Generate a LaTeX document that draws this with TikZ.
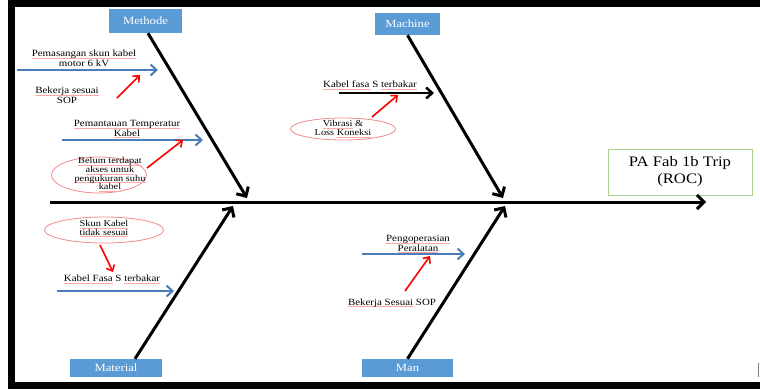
\documentclass[tikz,border=0pt]{standalone}
\usepackage{fontspec}
\setmainfont[FakeStretch=1.15]{Liberation Serif}
\usetikzlibrary{arrows.meta,shapes.geometric}
\definecolor{catblue}{HTML}{5B9BD5}
\definecolor{ribblue}{HTML}{4A7EBB}
\definecolor{elred}{HTML}{F08A8A}
\definecolor{resgreen}{HTML}{A9D18E}
\newsavebox\rubox
\newcommand\ru[1]{\leavevmode\sbox\rubox{#1}\rlap{\textcolor{red!35}{\rule[-1.8pt]{\wd\rubox}{0.6pt}}}\usebox\rubox}
\begin{document}
\begin{tikzpicture}[x=1pt,y=-1pt,
  catbox/.style={fill=catblue,text=white,inner sep=0pt,font=\fontsize{11}{13}\selectfont},
  lbl/.style={align=center,inner sep=0pt,font=\fontsize{9.5}{9.6}\selectfont},
  elbl/.style={align=center,inner sep=0pt,font=\fontsize{9}{8.8}\selectfont},
  bone/.style={draw=black,line width=3pt,-{Straight Barb[length=7pt,width=14pt,line width=3pt]}},
  bluerib/.style={draw=ribblue,line width=2pt,-{Straight Barb[length=6pt,width=11pt,line width=2pt]}},
  blackrib/.style={draw=black,line width=2.5pt,-{Straight Barb[length=6pt,width=11pt,line width=2.5pt]}},
  redarr/.style={draw=red,line width=1.6pt,-{Straight Barb[length=5pt,width=9pt,line width=1.6pt]}},
  oval/.style={draw=elred,ellipse,line width=0.8pt,inner sep=0pt}]
\useasboundingbox (0,0) rectangle (760,389);
\fill[white] (0,0) rectangle (760,389);
% frame
\fill[black] (8,0) rectangle (760,7);
\fill[black] (8,0) rectangle (15,389);
\fill[black] (8,382) rectangle (760,389);
\draw[gray,line width=1pt] (758,363) -- (758,377);

% category boxes
\node[catbox,minimum width=73pt,minimum height=24pt] (methode) at (145.5,21) {Methode};
\node[catbox,minimum width=65pt,minimum height=22pt] (machine) at (407.5,24) {Machine};
\node[catbox,minimum width=92pt,minimum height=18pt] (material) at (116,368) {Material};
\node[catbox,minimum width=91pt,minimum height=18pt] (man) at (407.5,368) {Man};

% result
\node[draw=resgreen,line width=0.9pt,minimum width=144pt,minimum height=46pt,align=center,
      font=\fontsize{14.5}{17}\selectfont] (result) at (680,172) {PA Fab 1b Trip\\(ROC)};

% spine
\coordinate (spineL) at (50,202);
\coordinate (spineR) at (706,202);
\draw[bone] (spineL) -- (spineR);

% bones
\coordinate (jMet) at (247,198);
\coordinate (jMac) at (503,198);
\coordinate (jMat) at (233,206);
\coordinate (jMan) at (505,206);
\draw[bone] ([xshift=2.5pt]methode.south) -- (jMet);
\draw[bone] (machine.south) -- (jMac);
\draw[bone] ([xshift=19pt]material.north) -- (jMat);
\draw[bone] (man.north) -- (jMan);

% Methode ribs
\coordinate (r1s) at (17,70); \coordinate (r1e) at (158,70);
\draw[bluerib] (r1s) -- (r1e);
\node[lbl] (l1) at (84,58.5) {\ru{Pemasangan skun kabel}\\motor 6 kV};
\node[lbl] (l2) at (67,95) {\ru{Bekerja sesuai}\\SOP};
\coordinate (a1s) at (117,98); \coordinate (a1e) at (140,75);
\draw[redarr] (a1s) -- (a1e);

\coordinate (r2s) at (62,140); \coordinate (r2e) at (203,140);
\draw[bluerib] (r2s) -- (r2e);
\node[lbl] (l3) at (127,129) {\ru{Pemantauan Temperatur}\\\ru{Kabel}};
\node[oval,minimum width=95pt,minimum height=36pt] (e1) at (99,175) {};
\node[elbl] (l4) at (110,174.5) {\ru{Belum terdapat}\\\ru{akses untuk}\\\ru{pengukuran suhu}\\\ru{kabel}};
\coordinate (a2s) at (147,168); \coordinate (a2e) at (183,140);
\draw[redarr] (a2s) -- (a2e);

% Machine rib
\coordinate (r3s) at (339,93); \coordinate (r3e) at (434,93);
\draw[blackrib] (r3s) -- (r3e);
\node[lbl] (l5) at (370,85) {\ru{Kabel fasa} S \ru{terbakar}};
\node[oval,minimum width=105pt,minimum height=22pt] (e2) at (343,129) {};
\node[elbl] (l6) at (343,129) {\ru{Vibrasi} \&\\Loss \ru{Koneksi}};
\coordinate (a3s) at (372,117); \coordinate (a3e) at (398,95);
\draw[redarr] (a3s) -- (a3e);

% Material rib
\node[oval,minimum width=119pt,minimum height=26pt] (e3) at (104,230) {};
\node[elbl] (l7) at (104,228.5) {\ru{Skun Kabel}\\\ru{tidak sesuai}};
\coordinate (a4s) at (100,245); \coordinate (a4e) at (113,272);
\draw[redarr] (a4s) -- (a4e);
\node[lbl] (l8) at (112,279.5) {\ru{Kabel Fasa} S \ru{terbakar}};
\coordinate (r4s) at (57,291); \coordinate (r4e) at (174,291);
\draw[bluerib] (r4s) -- (r4e);

% Man rib
\node[lbl] (l9) at (418,244) {\ru{Pengoperasian}\\\ru{Peralatan}};
\coordinate (r5s) at (362,254); \coordinate (r5e) at (465,254);
\draw[bluerib] (r5s) -- (r5e);
\coordinate (a5s) at (405,291); \coordinate (a5e) at (430,256);
\draw[redarr] (a5s) -- (a5e);
\node[lbl] (l10) at (392,303) {\ru{Bekerja Sesuai} SOP};
\end{tikzpicture}
\end{document}
